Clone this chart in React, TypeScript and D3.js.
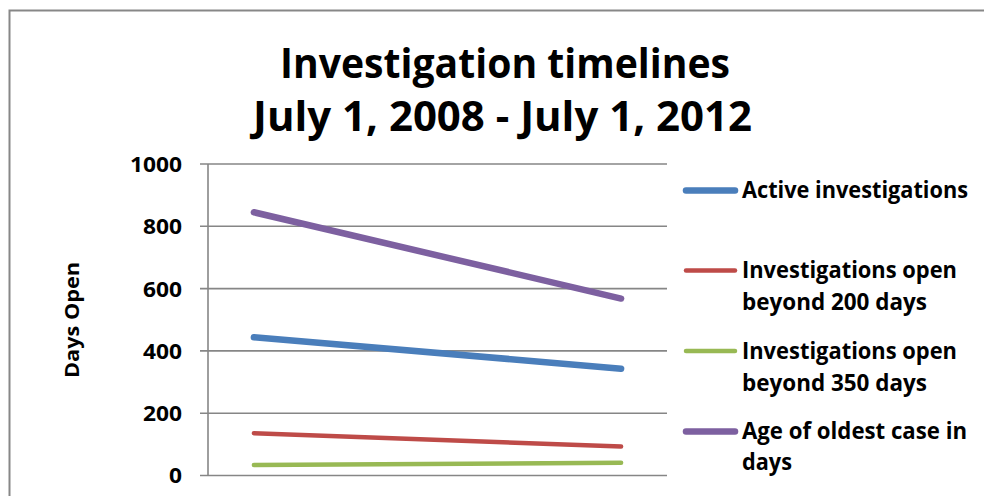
import React from "react";
import * as d3 from "d3";

// Reporting years (July 1 snapshots)
const years: number[] = [2008, 2012];

// Days open, per series
const activeInvestigations: number[] = [444, 343];
const openBeyond200: number[] = [136, 93];
const openBeyond350: number[] = [34, 41];
const oldestCaseAge: number[] = [845, 568];

const seriesNames: string[][] = [
  ["Active investigations"],
  ["Investigations open", "beyond 200 days"],
  ["Investigations open", "beyond 350 days"],
  ["Age of oldest case in", "days"],
];

const yTicks: number[] = [0, 200, 400, 600, 800, 1000];

const titleLines: string[] = ["Investigation timelines", "July 1, 2008 - July 1, 2012"];

const FONT = "'Open Sans', 'DejaVu Sans', sans-serif";
const GRID = "#868686";

export default function App() {
  const width = 984;
  const height = 496;

  const x = d3.scaleLinear().domain([2007.5, 2012.5]).range([208, 667]);
  const y = d3.scaleLinear().domain([0, 1000]).range([475.5, 164]);

  const series = [
    { values: activeInvestigations, color: "#4a7ebb", w: 6.5 },
    { values: openBeyond200, color: "#be4b48", w: 4.5 },
    { values: openBeyond350, color: "#98b954", w: 4.5 },
    { values: oldestCaseAge, color: "#7d60a0", w: 6.5 },
  ];

  const line = d3
    .line<[number, number]>()
    .x((d) => x(d[0]))
    .y((d) => y(d[1]));

  // legend layout: symbol centre y, and baselines for each text line
  const legend = [
    { sy: 190.5, baselines: [197.5], widths: [226] },
    { sy: 270.5, baselines: [278, 309.5], widths: [215, 185] },
    { sy: 351, baselines: [359, 390.5], widths: [215, 185] },
    { sy: 431.5, baselines: [438.5, 470], widths: [225, 50] },
  ];

  return (
    <svg
      width={width}
      height={height}
      style={{ position: "absolute", left: 0, top: 0, background: "#fff" }}
      fontFamily={FONT}
    >
      <rect x={0} y={0} width={width} height={height} fill="#fff" />
      {/* chart frame (top and left edges fall inside the view) */}
      <path d={`M9.5,${height} V10.5 H${width}`} fill="none" stroke="#878787" strokeWidth={2} />

      {/* title */}
      <text x={505} y={78} textAnchor="middle" fontSize={42} fontWeight={700} fill="#000"
        textLength={450} lengthAdjust="spacingAndGlyphs">
        {titleLines[0]}
      </text>
      <text x={502.5} y={131} textAnchor="middle" fontSize={42} fontWeight={700} fill="#000"
        textLength={499} lengthAdjust="spacingAndGlyphs">
        {titleLines[1]}
      </text>

      {/* gridlines, ticks and labels */}
      {yTicks.map((t) => (
        <g key={t}>
          <line x1={200} x2={667} y1={y(t)} y2={y(t)} stroke={GRID} strokeWidth={1.6} />
          <text x={182} y={y(t)} dy="0.36em" textAnchor="end" fontSize={22} fontWeight={700} fill="#000"
            textLength={String(t).length * 13} lengthAdjust="spacingAndGlyphs">
            {t}
          </text>
        </g>
      ))}
      <line x1={208} x2={208} y1={y(1000)} y2={y(0)} stroke={GRID} strokeWidth={1.6} />

      {/* axis title */}
      <text
        transform={`translate(78.5,320) rotate(-90)`}
        textAnchor="middle"
        fontSize={20}
        fontWeight={700}
        fill="#000"
        textLength={116}
        lengthAdjust="spacingAndGlyphs"
      >
        Days Open
      </text>

      {/* series */}
      {series.map((s, i) => (
        <path
          key={i}
          d={line(years.map((yr, j) => [yr, s.values[j]] as [number, number])) || ""}
          fill="none"
          stroke={s.color}
          strokeWidth={s.w}
          strokeLinecap="round"
          strokeLinejoin="round"
        />
      ))}

      {/* legend */}
      {legend.map((l, i) => (
        <g key={i}>
          <line x1={686} x2={735} y1={l.sy} y2={l.sy} stroke={series[i].color}
            strokeWidth={series[i].w} strokeLinecap="round" />
          {seriesNames[i].map((txt, k) => (
            <text key={k} x={742} y={l.baselines[k]} fontSize={22.5} fontWeight={700} fill="#000"
              textLength={l.widths[k]} lengthAdjust="spacingAndGlyphs">
              {txt}
            </text>
          ))}
        </g>
      ))}
    </svg>
  );
}
